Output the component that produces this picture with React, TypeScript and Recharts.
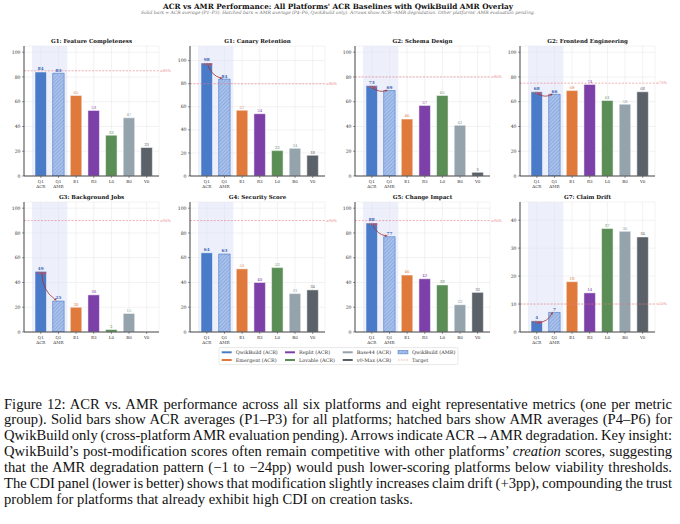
import React from 'react';
import {
  BarChart,
  Bar,
  XAxis,
  YAxis,
  CartesianGrid,
  ReferenceLine,
  ReferenceArea,
  Cell,
  LabelList,
} from 'recharts';

// categories on every panel: QwikBuild ACR/AMR, then the other platforms' ACR
const categories = ['Q1 ACR', 'Q1 AMR', 'E1', 'R3', 'L0', 'B0', 'V0'];

const featureCompleteness = [84, 83, 65, 53, 33, 47, 23];
const canaryRetention = [98, 84, 57, 54, 22, 24, 18];
const schemaDesign = [73, 69, 46, 57, 65, 41, 3];
const frontendEngineering = [68, 66, 69, 74, 61, 58, 68];
const backgroundJobs = [49, 25, 20, 30, 2, 15, 0];
const securityScore = [64, 63, 51, 40, 52, 31, 34];
const changeImpact = [88, 77, 46, 43, 38, 22, 32];
const claimDrift = [4, 7, 18, 14, 37, 36, 34];

const pctTicks = [0, 20, 40, 60, 80, 100];
const driftTicks = [0, 10, 20, 30, 40];

const BLUE = '#4a7bc8';
const barColors = [BLUE, BLUE, '#e07a3c', '#7c40a8', '#5b8e56', '#95a3ac', '#5b6168'];
const labelColors = ['#3a66b6', '#3a66b6', '#e07a3c', '#7c40a8', '#5b8e56', '#8e9ca5', '#5b6168'];
const TARGET = '#e77b82';
const ARROW = '#a8302f';
const FIG_FONT = '"DejaVu Serif", serif';

const panels = [
  { id: 'g1a', title: 'G1: Feature Completeness', values: featureCompleteness, target: 85, targetLabel: '≥85%', top: 105, ticks: pctTicks },
  { id: 'g1b', title: 'G1: Canary Retention', values: canaryRetention, target: 80, targetLabel: '≥80%', top: 112.7, ticks: pctTicks },
  { id: 'g2a', title: 'G2: Schema Design', values: schemaDesign, target: 80, targetLabel: '≥80%', top: 105, ticks: pctTicks },
  { id: 'g2b', title: 'G2: Frontend Engineering', values: frontendEngineering, target: 75, targetLabel: '≥75%', top: 105, ticks: pctTicks },
  { id: 'g3', title: 'G3: Background Jobs', values: backgroundJobs, target: 90, targetLabel: '≥90%', top: 105, ticks: pctTicks },
  { id: 'g4', title: 'G4: Security Score', values: securityScore, target: 90, targetLabel: '≥90%', top: 105, ticks: pctTicks },
  { id: 'g5', title: 'G5: Change Impact', values: changeImpact, target: 90, targetLabel: '≥90%', top: 105, ticks: pctTicks },
  { id: 'g7', title: 'G7: Claim Drift', values: claimDrift, target: 10, targetLabel: '≤10%', top: 46.5, ticks: driftTicks },
];

const COLS = [24, 190, 355, 520];
const ROWS = [46, 201.7];
const PLOT_W = 135;
const PLOT_H = 130;

function HatchDefs({ id }: { id: string }) {
  return (
    <defs>
      <pattern id={id} patternUnits="userSpaceOnUse" width={2.6} height={2.6} patternTransform="rotate(45)">
        <rect width={2.6} height={2.6} fill="#a8c0ea" />
        <line x1={0} y1={0} x2={0} y2={2.6} stroke="#5f8bd3" strokeWidth={0.7} />
      </pattern>
    </defs>
  );
}

function CategoryTick(props: any) {
  const { x, y, payload } = props;
  const lines = String(payload.value).split(' ');
  return (
    <text x={x} y={y} textAnchor="middle" fontSize={4.1} fill="#333" fontFamily={FIG_FONT}>
      {lines.map((l, i) => (
        <tspan key={i} x={x} dy={i === 0 ? 4.3 : 4.7}>
          {l}
        </tspan>
      ))}
    </text>
  );
}

function ValueLabel(props: any) {
  const { x, y, width, value, index } = props;
  const q = index < 2;
  return (
    <text
      x={x + width / 2}
      y={y - 1.6}
      textAnchor="middle"
      fontSize={q ? 4.2 : 3.9}
      fontWeight={q ? 700 : 400}
      fill={labelColors[index]}
      fontFamily={FIG_FONT}
    >
      {value}
    </text>
  );
}

// curved ACR -> AMR arrow; endpoints come from the ReferenceLine segment
const arrowShape = (delta: number) => (props: any) => {
  const { x1, y1, x2, y2 } = props;
  const sx = x1 + 1;
  const sy = y1 + 2.4;
  const ex = x2 - 1.7;
  const ey = y2 - 0.6;
  const dx = ex - sx;
  const dy = ey - sy;
  const cx = (sx + ex) / 2 - 0.25 * dy;
  const cy = (sy + ey) / 2 + 0.25 * dx;
  const ang = Math.atan2(ey - cy, ex - cx);
  const hl = 2.6;
  const hw = 1.1;
  const bx = ex - hl * Math.cos(ang);
  const by = ey - hl * Math.sin(ang);
  const px = -Math.sin(ang) * hw;
  const py = Math.cos(ang) * hw;
  const txt = `${delta > 0 ? '+' : '−'}${Math.abs(delta)}pp`;
  return (
    <g>
      <path d={`M${sx},${sy} Q${cx},${cy} ${bx},${by}`} stroke={ARROW} strokeWidth={0.8} fill="none" />
      <polygon points={`${ex},${ey} ${bx + px},${by + py} ${bx - px},${by - py}`} fill={ARROW} />
      <text x={x1} y={y1 + 2.2} textAnchor="middle" fontSize={3.2} fontWeight={700} fill="#d9453f" fontFamily={FIG_FONT}>
        {txt}
      </text>
    </g>
  );
};

function Panel({ p, left, top }: { p: (typeof panels)[number]; left: number; top: number }) {
  const data = categories.map((name, i) => ({ name, value: p.values[i] }));
  const delta = p.values[1] - p.values[0];
  const hatchId = `hatch-${p.id}`;
  return (
    <div style={{ position: 'absolute', left: left - 24, top: top - 6 }}>
      <BarChart width={24 + PLOT_W + 16} height={6 + PLOT_H + 18} data={data} margin={{ top: 6, right: 16, bottom: 0, left: 0 }}>
        <HatchDefs id={hatchId} />
        <CartesianGrid stroke="#e4e4e4" strokeWidth={0.5} />
        <ReferenceArea x1="Q1 ACR" x2="Q1 AMR" fill="#dce0f7" fillOpacity={0.5} stroke="none" ifOverflow="visible" />
        <XAxis
          dataKey="name"
          interval={0}
          height={18}
          padding={{ left: 8, right: 3.5 }}
          tick={<CategoryTick />}
          tickSize={2}
          tickMargin={1}
          axisLine={{ stroke: '#333', strokeWidth: 0.9 }}
          tickLine={{ stroke: '#333', strokeWidth: 0.5 }}
        />
        <YAxis
          width={24}
          domain={[0, p.top]}
          ticks={p.ticks}
          allowDataOverflow
          tickSize={2}
          tickMargin={1.5}
          tick={{ fontSize: 4.6, fill: '#333', fontFamily: FIG_FONT }}
          axisLine={{ stroke: '#333', strokeWidth: 0.9 }}
          tickLine={{ stroke: '#333', strokeWidth: 0.5 }}
        />
        <ReferenceLine
          y={p.target}
          stroke={TARGET}
          strokeWidth={0.6}
          strokeDasharray="2 1.4"
          ifOverflow="visible"
          label={{ value: p.targetLabel, position: 'right', offset: 1, fill: TARGET, fontSize: 3.6, fontFamily: FIG_FONT }}
        />
        <Bar dataKey="value" barSize={11.5} isAnimationActive={false}>
          {data.map((d, i) => (
            <Cell
              key={d.name}
              fill={i === 1 ? `url(#${hatchId})` : barColors[i]}
              stroke={i === 1 ? BLUE : '#ffffff'}
              strokeWidth={i === 1 ? 0.6 : 0.5}
            />
          ))}
          <LabelList dataKey="value" content={<ValueLabel />} />
        </Bar>
        {Math.abs(delta) >= 2 && (
          <ReferenceLine
            segment={[
              { x: 'Q1 ACR', y: p.values[0] },
              { x: 'Q1 AMR', y: p.values[1] },
            ]}
            ifOverflow="visible"
            stroke={ARROW}
            shape={arrowShape(delta)}
          />
        )}
      </BarChart>
    </div>
  );
}

const legendCols = [
  [
    { label: 'QwikBuild (ACR)', kind: 'bar', color: BLUE },
    { label: 'Emergent (ACR)', kind: 'bar', color: '#e07a3c' },
  ],
  [
    { label: 'Replit (ACR)', kind: 'bar', color: '#7c40a8' },
    { label: 'Lovable (ACR)', kind: 'bar', color: '#5b8e56' },
  ],
  [
    { label: 'Base44 (ACR)', kind: 'bar', color: '#95a3ac' },
    { label: 'v0-Max (ACR)', kind: 'bar', color: '#5b6168' },
  ],
  [
    { label: 'QwikBuild (AMR)', kind: 'hatch', color: BLUE },
    { label: 'Target', kind: 'target', color: TARGET },
  ],
];
const legendColX = [221.7, 285, 342.7, 398];
const legendRowY = [352.3, 360];

function Overlay() {
  return (
    <svg width={680} height={380} style={{ position: 'absolute', left: 0, top: 0, pointerEvents: 'none' }}>
      <HatchDefs id="hatch-legend" />
      <text x={338} y={8.8} textAnchor="middle" fontSize={7.3} fontWeight={700} fill="#111" fontFamily={FIG_FONT}>
        ACR vs AMR Performance: All Platforms' ACR Baselines with QwikBuild AMR Overlay
      </text>
      <text x={338} y={13.6} textAnchor="middle" fontSize={4.5} fontStyle="italic" fill="#777" fontFamily={FIG_FONT}>
        Solid bars = ACR average (P1–P3). Hatched bars = AMR average (P4–P6, QwikBuild only). Arrows show ACR→AMR degradation. Other platforms' AMR evaluation pending.
      </text>
      {panels.map((p, i) => (
        <text
          key={p.id}
          x={COLS[i % 4] + PLOT_W / 2}
          y={ROWS[Math.floor(i / 4)] - 3}
          textAnchor="middle"
          fontSize={5.5}
          fontWeight={700}
          fill="#111"
          fontFamily={FIG_FONT}
        >
          {p.title}
        </text>
      ))}
      <rect x={219} y={347.6} width={239} height={17} rx={1.2} fill="#fff" stroke="#d0d0d0" strokeWidth={0.5} />
      {legendCols.map((col, ci) =>
        col.map((it, ri) => {
          const x = legendColX[ci];
          const y = legendRowY[ri];
          return (
            <g key={it.label}>
              {it.kind === 'bar' && <rect x={x} y={y - 1} width={10} height={2} fill={it.color} />}
              {it.kind === 'hatch' && <rect x={x} y={y - 2} width={10} height={3.6} fill="url(#hatch-legend)" stroke={BLUE} strokeWidth={0.5} />}
              {it.kind === 'target' && <line x1={x} y1={y} x2={x + 10} y2={y} stroke={TARGET} strokeWidth={0.6} strokeDasharray="1.6 1.2" />}
              <text x={x + 14} y={y + 1.6} fontSize={4.9} fill="#333" fontFamily={FIG_FONT}>
                {it.label}
              </text>
            </g>
          );
        })
      )}
    </svg>
  );
}

const lineStyle: React.CSSProperties = { textAlign: 'justify', textAlignLast: 'justify', wordSpacing: '-1.3px' };

function Caption() {
  return (
    <div
      style={{
        position: 'absolute',
        left: 4,
        top: 396.5,
        width: 668,
        fontFamily: '"Liberation Serif", "Times New Roman", serif',
        fontSize: 14.6,
        lineHeight: '15.85px',
        color: '#111',
      }}
    >
      <div style={lineStyle}>Figure 12: ACR vs. AMR performance across all six platforms and eight representative metrics (one per metric</div>
      <div style={lineStyle}>group). Solid bars show ACR averages (P1–P3) for all platforms; hatched bars show AMR averages (P4–P6) for</div>
      <div style={lineStyle}>QwikBuild only (cross-platform AMR evaluation pending). Arrows indicate ACR→AMR degradation. Key insight:</div>
      <div style={lineStyle}>
        QwikBuild’s post-modification scores often remain competitive with other platforms’ <i>creation</i> scores, suggesting
      </div>
      <div style={lineStyle}>that the AMR degradation pattern (−1 to −24pp) would push lower-scoring platforms below viability thresholds.</div>
      <div style={lineStyle}>The CDI panel (lower is better) shows that modification slightly increases claim drift (+3pp), compounding the trust</div>
      <div>problem for platforms that already exhibit high CDI on creation tasks.</div>
    </div>
  );
}

export default function App() {
  return (
    <div style={{ position: 'absolute', left: 0, top: 0, width: 680, height: 524, background: '#fff', overflow: 'hidden' }}>
      {panels.map((p, i) => (
        <Panel key={p.id} p={p} left={COLS[i % 4]} top={ROWS[Math.floor(i / 4)]} />
      ))}
      <Overlay />
      <Caption />
    </div>
  );
}
